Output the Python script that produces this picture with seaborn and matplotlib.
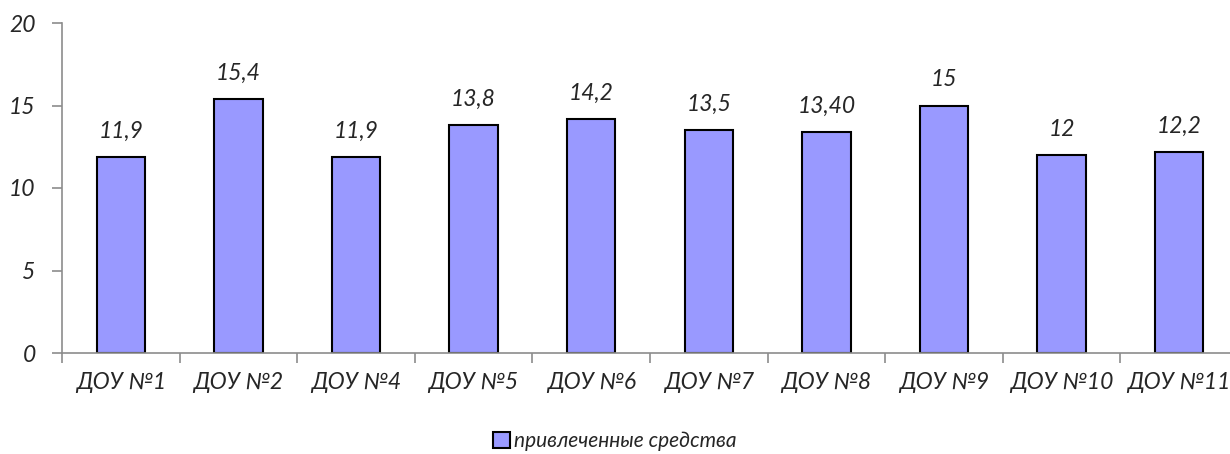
import pandas as pd
import matplotlib.pyplot as plt
import seaborn as sns
import numpy as np

# --- Data ---
categories = ['ДОУ №1', 'ДОУ №2', 'ДОУ №4', 'ДОУ №5', 'ДОУ №6',
              'ДОУ №7', 'ДОУ №8', 'ДОУ №9', 'ДОУ №10', 'ДОУ №11']
values = [11.9, 15.4, 11.9, 13.8, 14.2, 13.5, 13.4, 15.0, 12.0, 12.2]
value_labels = ['11,9', '15,4', '11,9', '13,8', '14,2', '13,5', '13,40', '15', '12', '12,2']
series_name = 'привлеченные средства'

df = pd.DataFrame({'ДОУ': categories, 'value': values})

sns.set_style("white")
plt.rcParams['font.family'] = ['Lato', 'DejaVu Sans']

fig = plt.figure(figsize=(12.3, 4.54), dpi=100)
ax = fig.add_axes([62 / 1230, 101 / 454, 1176 / 1230, 330 / 454])

sns.barplot(data=df, x='ДОУ', y='value', color='#9999FF', edgecolor='black',
            linewidth=1.5, width=0.41, saturation=1, ax=ax, legend=False)

# value labels above bars
for i, (v, lab) in enumerate(zip(values, value_labels)):
    ax.annotate(lab, (i, v), xytext=(0, 11), textcoords='offset points',
                ha='center', va='bottom', fontsize=16.5, fontstyle='italic')

ax.set_xlim(-0.5, len(categories) - 0.5)
ax.set_ylim(0, 20)
ax.set_yticks([0, 5, 10, 15, 20])
ax.set_xlabel('')
ax.set_ylabel('')

for side in ['top', 'right']:
    ax.spines[side].set_visible(False)
for side in ['left', 'bottom']:
    ax.spines[side].set_color('#8c8c8c')
    ax.spines[side].set_linewidth(1.2)

# tick marks between categories
ax.set_xticks(np.arange(-0.5, len(categories), 1.0), minor=True)
ax.tick_params(axis='x', which='major', bottom=True, length=0, pad=14, labelsize=16.5)
ax.tick_params(axis='x', which='minor', bottom=True, length=7, width=1.2,
               color='#8c8c8c', direction='out')
ax.tick_params(axis='y', left=True, length=7, width=1.2, color='#8c8c8c',
               direction='out', pad=12, labelsize=16.5)
for t in ax.get_xticklabels() + ax.get_yticklabels():
    t.set_fontstyle('italic')

handle = plt.Rectangle((0, 0), 1, 1, facecolor='#9999FF', edgecolor='black', linewidth=1.5)
fig.legend(handles=[handle], labels=[series_name], loc='center',
           bbox_to_anchor=(0.5, 1 - 441 / 454), frameon=False,
           prop={'size': 15, 'style': 'italic'}, handlelength=0.8,
           handleheight=0.8, handletextpad=0.2)

fig.savefig('out.png', dpi=100)
